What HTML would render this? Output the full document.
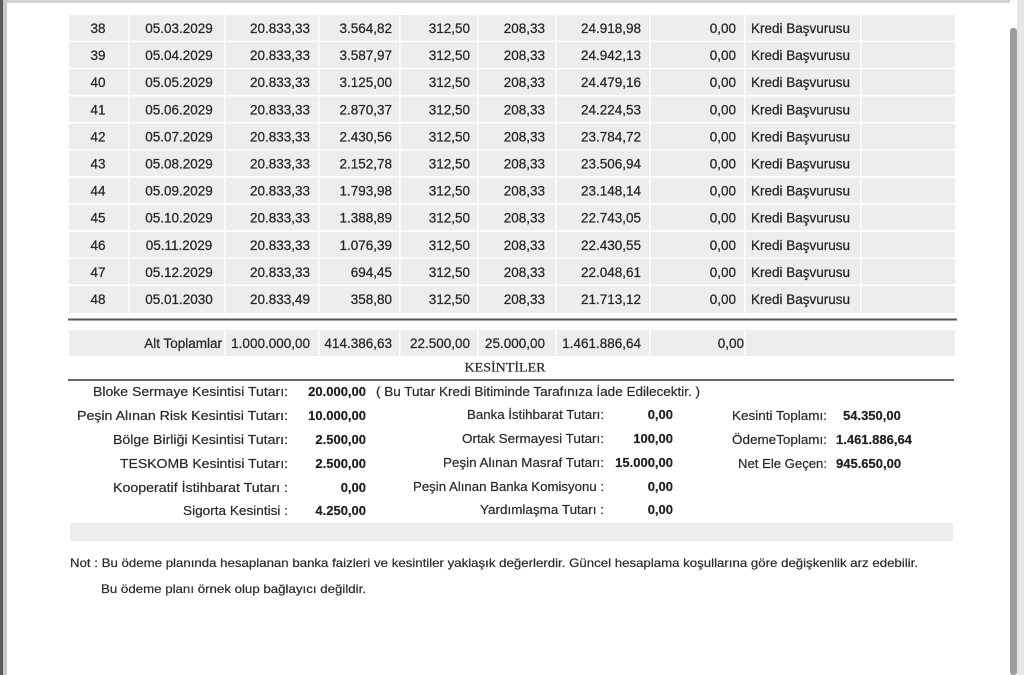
<!DOCTYPE html>
<html>
<head>
<meta charset="utf-8">
<style>
html,body{margin:0;padding:0;background:#fff;}
body{width:1024px;height:675px;overflow:hidden;}
svg{display:block;}
.t{font-family:"Liberation Sans",Arial,sans-serif;font-size:13.5px;fill:#262626;stroke:#262626;stroke-width:0.25;}
.d{font-family:"Liberation Sans",Arial,sans-serif;font-size:13px;fill:#2a2a2a;stroke:#2a2a2a;stroke-width:0.2;}
.b{font-weight:bold;fill:#1e1e1e;}
.n{font-family:"Liberation Sans",Arial,sans-serif;font-size:12px;fill:#2a2a2a;stroke:#2a2a2a;stroke-width:0.2;}
.s{font-family:"Liberation Serif","Times New Roman",serif;font-size:12.5px;fill:#2a2a2a;stroke:#2a2a2a;stroke-width:0.2;}
</style>
</head>
<body>
<svg width="1024" height="675" viewBox="0 0 1024 675" xmlns="http://www.w3.org/2000/svg">
<!-- frame -->
<rect x="0" y="0" width="1024" height="675" fill="#ffffff"/>
<rect x="0" y="0" width="1010" height="3" fill="#d4d4d4"/>
<rect x="0" y="0" width="3" height="675" fill="#5a5a5a"/>
<rect x="3" y="0" width="4" height="675" fill="#c8c8c8"/>
<rect x="1017" y="0" width="7" height="675" fill="#e6e6e6"/>
<rect x="1010" y="28" width="7" height="647" rx="3" fill="#9c9c9c"/>

<!-- table rows -->
<g id="rows">
<rect x="69" y="15" width="886" height="298" fill="#ededed"/>
<g fill="#ffffff">
<rect x="69" y="40.6" width="886" height="1.6"/>
<rect x="69" y="67.7" width="886" height="1.6"/>
<rect x="69" y="94.8" width="886" height="1.6"/>
<rect x="69" y="121.9" width="886" height="1.6"/>
<rect x="69" y="149.0" width="886" height="1.6"/>
<rect x="69" y="176.1" width="886" height="1.6"/>
<rect x="69" y="203.2" width="886" height="1.6"/>
<rect x="69" y="230.3" width="886" height="1.6"/>
<rect x="69" y="257.4" width="886" height="1.6"/>
<rect x="69" y="284.5" width="886" height="1.6"/>
<rect x="128" y="15" width="1.5" height="298"/>
<rect x="224" y="15" width="1.5" height="298"/>
<rect x="318" y="15" width="1.5" height="298"/>
<rect x="399" y="15" width="1.5" height="298"/>
<rect x="477" y="15" width="1.5" height="298"/>
<rect x="555" y="15" width="1.5" height="298"/>
<rect x="649" y="15" width="1.5" height="298"/>
<rect x="744" y="15" width="1.5" height="298"/>
<rect x="860" y="15" width="1.5" height="298"/>
</g>
</g>

<g class="t">
<text x="98" y="33" text-anchor="middle">38</text><text x="179" y="33" text-anchor="middle">05.03.2029</text><text x="310" y="33" text-anchor="end">20.833,33</text><text x="392" y="33" text-anchor="end">3.564,82</text><text x="470" y="33" text-anchor="end">312,50</text><text x="545" y="33" text-anchor="end">208,33</text><text x="641" y="33" text-anchor="end">24.918,98</text><text x="736" y="33" text-anchor="end">0,00</text><text x="751" y="33">Kredi Başvurusu</text>
<text x="98" y="60.1" text-anchor="middle">39</text><text x="179" y="60.1" text-anchor="middle">05.04.2029</text><text x="310" y="60.1" text-anchor="end">20.833,33</text><text x="392" y="60.1" text-anchor="end">3.587,97</text><text x="470" y="60.1" text-anchor="end">312,50</text><text x="545" y="60.1" text-anchor="end">208,33</text><text x="641" y="60.1" text-anchor="end">24.942,13</text><text x="736" y="60.1" text-anchor="end">0,00</text><text x="751" y="60.1">Kredi Başvurusu</text>
<text x="98" y="87.2" text-anchor="middle">40</text><text x="179" y="87.2" text-anchor="middle">05.05.2029</text><text x="310" y="87.2" text-anchor="end">20.833,33</text><text x="392" y="87.2" text-anchor="end">3.125,00</text><text x="470" y="87.2" text-anchor="end">312,50</text><text x="545" y="87.2" text-anchor="end">208,33</text><text x="641" y="87.2" text-anchor="end">24.479,16</text><text x="736" y="87.2" text-anchor="end">0,00</text><text x="751" y="87.2">Kredi Başvurusu</text>
<text x="98" y="114.3" text-anchor="middle">41</text><text x="179" y="114.3" text-anchor="middle">05.06.2029</text><text x="310" y="114.3" text-anchor="end">20.833,33</text><text x="392" y="114.3" text-anchor="end">2.870,37</text><text x="470" y="114.3" text-anchor="end">312,50</text><text x="545" y="114.3" text-anchor="end">208,33</text><text x="641" y="114.3" text-anchor="end">24.224,53</text><text x="736" y="114.3" text-anchor="end">0,00</text><text x="751" y="114.3">Kredi Başvurusu</text>
<text x="98" y="141.4" text-anchor="middle">42</text><text x="179" y="141.4" text-anchor="middle">05.07.2029</text><text x="310" y="141.4" text-anchor="end">20.833,33</text><text x="392" y="141.4" text-anchor="end">2.430,56</text><text x="470" y="141.4" text-anchor="end">312,50</text><text x="545" y="141.4" text-anchor="end">208,33</text><text x="641" y="141.4" text-anchor="end">23.784,72</text><text x="736" y="141.4" text-anchor="end">0,00</text><text x="751" y="141.4">Kredi Başvurusu</text>
<text x="98" y="168.5" text-anchor="middle">43</text><text x="179" y="168.5" text-anchor="middle">05.08.2029</text><text x="310" y="168.5" text-anchor="end">20.833,33</text><text x="392" y="168.5" text-anchor="end">2.152,78</text><text x="470" y="168.5" text-anchor="end">312,50</text><text x="545" y="168.5" text-anchor="end">208,33</text><text x="641" y="168.5" text-anchor="end">23.506,94</text><text x="736" y="168.5" text-anchor="end">0,00</text><text x="751" y="168.5">Kredi Başvurusu</text>
<text x="98" y="195.6" text-anchor="middle">44</text><text x="179" y="195.6" text-anchor="middle">05.09.2029</text><text x="310" y="195.6" text-anchor="end">20.833,33</text><text x="392" y="195.6" text-anchor="end">1.793,98</text><text x="470" y="195.6" text-anchor="end">312,50</text><text x="545" y="195.6" text-anchor="end">208,33</text><text x="641" y="195.6" text-anchor="end">23.148,14</text><text x="736" y="195.6" text-anchor="end">0,00</text><text x="751" y="195.6">Kredi Başvurusu</text>
<text x="98" y="222.7" text-anchor="middle">45</text><text x="179" y="222.7" text-anchor="middle">05.10.2029</text><text x="310" y="222.7" text-anchor="end">20.833,33</text><text x="392" y="222.7" text-anchor="end">1.388,89</text><text x="470" y="222.7" text-anchor="end">312,50</text><text x="545" y="222.7" text-anchor="end">208,33</text><text x="641" y="222.7" text-anchor="end">22.743,05</text><text x="736" y="222.7" text-anchor="end">0,00</text><text x="751" y="222.7">Kredi Başvurusu</text>
<text x="98" y="249.8" text-anchor="middle">46</text><text x="179" y="249.8" text-anchor="middle">05.11.2029</text><text x="310" y="249.8" text-anchor="end">20.833,33</text><text x="392" y="249.8" text-anchor="end">1.076,39</text><text x="470" y="249.8" text-anchor="end">312,50</text><text x="545" y="249.8" text-anchor="end">208,33</text><text x="641" y="249.8" text-anchor="end">22.430,55</text><text x="736" y="249.8" text-anchor="end">0,00</text><text x="751" y="249.8">Kredi Başvurusu</text>
<text x="98" y="276.9" text-anchor="middle">47</text><text x="179" y="276.9" text-anchor="middle">05.12.2029</text><text x="310" y="276.9" text-anchor="end">20.833,33</text><text x="392" y="276.9" text-anchor="end">694,45</text><text x="470" y="276.9" text-anchor="end">312,50</text><text x="545" y="276.9" text-anchor="end">208,33</text><text x="641" y="276.9" text-anchor="end">22.048,61</text><text x="736" y="276.9" text-anchor="end">0,00</text><text x="751" y="276.9">Kredi Başvurusu</text>
<text x="98" y="304" text-anchor="middle">48</text><text x="179" y="304" text-anchor="middle">05.01.2030</text><text x="310" y="304" text-anchor="end">20.833,49</text><text x="392" y="304" text-anchor="end">358,80</text><text x="470" y="304" text-anchor="end">312,50</text><text x="545" y="304" text-anchor="end">208,33</text><text x="641" y="304" text-anchor="end">21.713,12</text><text x="736" y="304" text-anchor="end">0,00</text><text x="751" y="304">Kredi Başvurusu</text>
</g>

<rect x="68" y="318.5" width="889" height="2" fill="#555"/>

<rect x="69" y="330" width="886" height="26" fill="#ededed"/>
<g fill="#ffffff">
<rect x="224" y="330" width="1.5" height="26"/>
<rect x="318" y="330" width="1.5" height="26"/>
<rect x="399" y="330" width="1.5" height="26"/>
<rect x="477" y="330" width="1.5" height="26"/>
<rect x="555" y="330" width="1.5" height="26"/>
<rect x="649" y="330" width="1.5" height="26"/>
<rect x="744" y="330" width="1.5" height="26"/>
</g>
<g class="t">
<text x="222" y="348" text-anchor="end">Alt Toplamlar</text>
<text x="310" y="348" text-anchor="end">1.000.000,00</text>
<text x="392" y="348" text-anchor="end">414.386,63</text>
<text x="470" y="348" text-anchor="end">22.500,00</text>
<text x="545" y="348" text-anchor="end">25.000,00</text>
<text x="641" y="348" text-anchor="end">1.461.886,64</text>
<text x="744" y="348" text-anchor="end">0,00</text>
</g>

<text class="s" x="505" y="371.5" text-anchor="middle" textLength="81" lengthAdjust="spacingAndGlyphs">KESİNTİLER</text>
<rect x="68" y="379" width="886" height="2" fill="#666"/>

<g class="d">
<text x="288" y="396" text-anchor="end" textLength="195" lengthAdjust="spacingAndGlyphs">Bloke Sermaye Kesintisi Tutarı:</text>
<text x="288" y="420" text-anchor="end" textLength="211" lengthAdjust="spacingAndGlyphs">Peşin Alınan Risk Kesintisi Tutarı:</text>
<text x="288" y="444" text-anchor="end" textLength="175" lengthAdjust="spacingAndGlyphs">Bölge Birliği Kesintisi Tutarı:</text>
<text x="288" y="468" text-anchor="end" textLength="168" lengthAdjust="spacingAndGlyphs">TESKOMB Kesintisi Tutarı:</text>
<text x="288" y="492" text-anchor="end" textLength="175" lengthAdjust="spacingAndGlyphs">Kooperatif İstihbarat Tutarı :</text>
<text x="288" y="515" text-anchor="end" textLength="105" lengthAdjust="spacingAndGlyphs">Sigorta Kesintisi :</text>
<text class="b" x="366" y="396" text-anchor="end">20.000,00</text>
<text class="b" x="366" y="420" text-anchor="end">10.000,00</text>
<text class="b" x="366" y="444" text-anchor="end">2.500,00</text>
<text class="b" x="366" y="468" text-anchor="end">2.500,00</text>
<text class="b" x="366" y="492" text-anchor="end">0,00</text>
<text class="b" x="366" y="515" text-anchor="end">4.250,00</text>
<text x="376" y="396" textLength="324" lengthAdjust="spacingAndGlyphs">( Bu Tutar Kredi Bitiminde Tarafınıza İade Edilecektir. )</text>

<text x="604" y="419" text-anchor="end" textLength="137" lengthAdjust="spacingAndGlyphs">Banka İstihbarat Tutarı:</text>
<text x="604" y="443" text-anchor="end" textLength="142" lengthAdjust="spacingAndGlyphs">Ortak Sermayesi Tutarı:</text>
<text x="604" y="467" text-anchor="end" textLength="161" lengthAdjust="spacingAndGlyphs">Peşin Alınan Masraf Tutarı:</text>
<text x="604" y="491" text-anchor="end" textLength="191" lengthAdjust="spacingAndGlyphs">Peşin Alınan Banka Komisyonu :</text>
<text x="604" y="514" text-anchor="end" textLength="124" lengthAdjust="spacingAndGlyphs">Yardımlaşma Tutarı :</text>
<text class="b" x="673" y="419" text-anchor="end">0,00</text>
<text class="b" x="673" y="443" text-anchor="end">100,00</text>
<text class="b" x="673" y="467" text-anchor="end">15.000,00</text>
<text class="b" x="673" y="491" text-anchor="end">0,00</text>
<text class="b" x="673" y="514" text-anchor="end">0,00</text>

<text x="827" y="420" text-anchor="end" textLength="95" lengthAdjust="spacingAndGlyphs">Kesinti Toplamı:</text>
<text x="827" y="444" text-anchor="end" textLength="95" lengthAdjust="spacingAndGlyphs">ÖdemeToplamı:</text>
<text x="827" y="468" text-anchor="end" textLength="89" lengthAdjust="spacingAndGlyphs">Net Ele Geçen:</text>
<text class="b" x="843" y="420">54.350,00</text>
<text class="b" x="836" y="444">1.461.886,64</text>
<text class="b" x="836" y="468">945.650,00</text>
</g>

<rect x="70" y="523" width="883" height="18" fill="#ededed"/>

<text class="n" x="70" y="567" textLength="848" lengthAdjust="spacingAndGlyphs">Not : Bu ödeme planında hesaplanan banka faizleri ve kesintiler yaklaşık değerlerdir. Güncel hesaplama koşullarına göre değişkenlik arz edebilir.</text>
<text class="n" x="101" y="593" textLength="265" lengthAdjust="spacingAndGlyphs">Bu ödeme planı örnek olup bağlayıcı değildir.</text>
</svg>
</body>
</html>
